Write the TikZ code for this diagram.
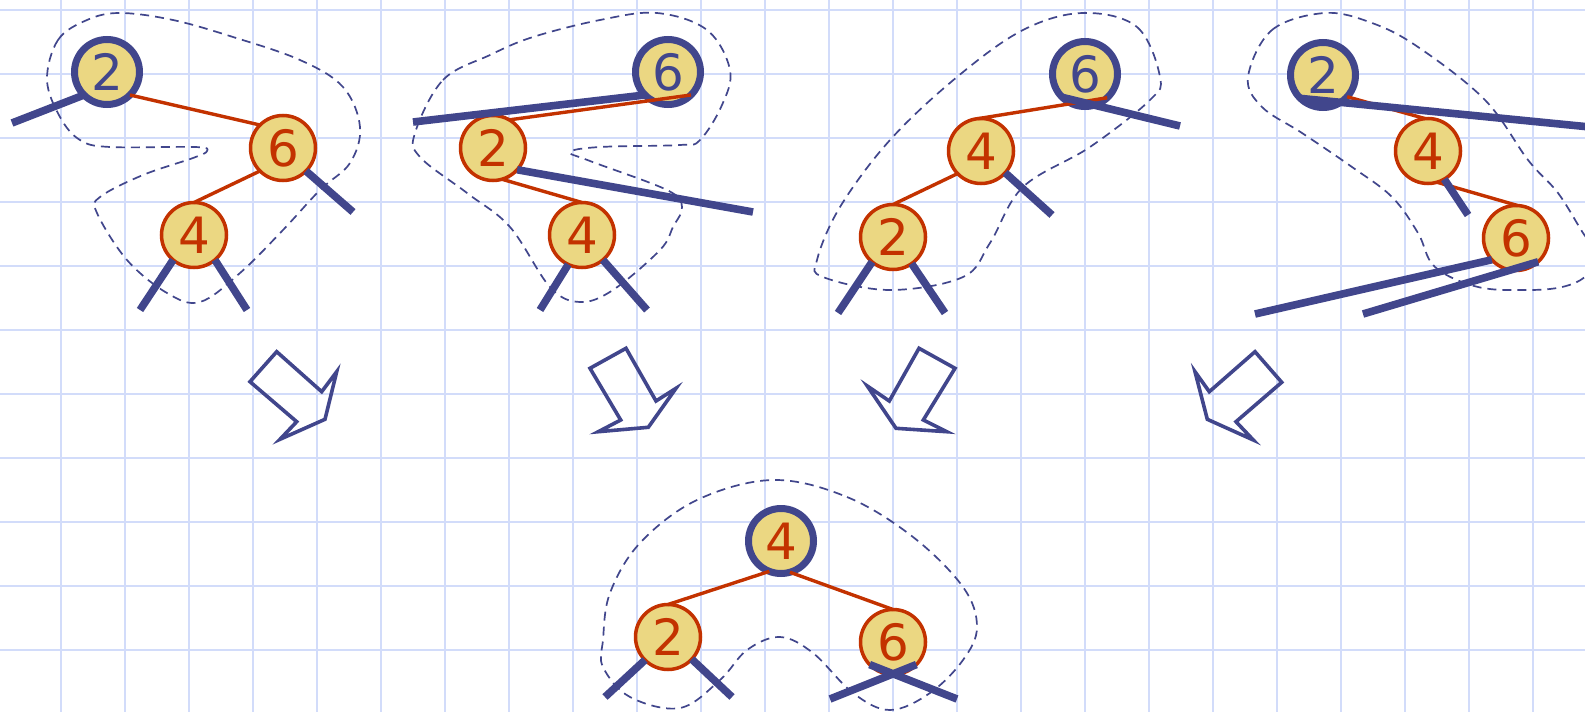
\documentclass[tikz,border=0pt]{standalone}
\usepackage{fontspec}
\newfontfamily\dejavu{DejaVu Sans}
\definecolor{gridc}{RGB}{210,220,250}
\definecolor{bblue}{RGB}{65,70,140}
\definecolor{ored}{RGB}{195,50,0}
\definecolor{sand}{RGB}{235,215,130}
\tikzset{
 tnode/.style={circle, fill=sand, minimum size=32.5pt, inner sep=0pt, outer sep=0pt, font=\dejavu\fontsize{25}{25}\selectfont},
 rnode/.style={tnode, draw=ored, line width=1.75pt, text=ored},
 bnode/.style={tnode, draw=bblue, line width=3.5pt, text=bblue},
 redge/.style={draw=ored, line width=1.7pt},
 stub/.style={draw=bblue, line width=3.8pt},
 hull/.style={draw=bblue, line width=0.85pt, dash pattern=on 4.5pt off 3pt},
 barrow/.style={draw=bblue, line width=1.8pt, line join=miter},
 gridline/.style={draw=gridc, line width=1pt}
}
\begin{document}
\begin{tikzpicture}[x=0.5pt,y=-0.5pt]
\useasboundingbox (0,0) rectangle (1585,712);
\clip (0,0) rectangle (1585,712);
\fill[white] (0,0) rectangle (1585,712);
\foreach \i in {0,...,23} \draw[gridline] (61+64*\i,0) -- (61+64*\i,712);
\foreach \j in {0,...,11} \draw[gridline] (0,10+64*\j) -- (1585,10+64*\j);

% dashed hulls
\draw[hull] plot[smooth cycle, tension=0.6] coordinates {(47,80) (58,40) (87,20) (120,13) (173,20) (233,37) (300,60) (343,87) (360,127) (350,163) (320,190) (283,230) (240,273) (200,302) (167,293) (127,260) (97,213) (100,197) (143,175) (193,158) (207,151) (195,147) (110,147) (80,140) (60,117)};
\draw[hull] plot[smooth cycle, tension=0.6] coordinates {(415,133) (443,80) (490,55) (533,37) (600,20) (657,13) (707,30) (730,70) (722,105) (700,140) (680,145) (600,147) (570,152) (590,161) (667,190) (682,207) (673,227) (660,250) (613,290) (580,302) (550,287) (510,227) (467,193) (420,157)};
\draw[hull] plot[smooth cycle, tension=0.6] coordinates {(1083,13) (1137,27) (1160,77) (1150,100) (1090,147) (1023,187) (990,243) (963,277) (890,290) (823,277) (817,260) (840,207) (890,140) (957,77) (1023,30)};
\draw[hull] plot[smooth cycle, tension=0.6] coordinates {(1248,77) (1272,30) (1325,13) (1372,23) (1418,47) (1485,100) (1528,160) (1558,193) (1583,233) (1600,258) (1585,277) (1562,287) (1528,290) (1478,287) (1435,267) (1418,233) (1392,197) (1352,167) (1302,133) (1262,107)};
\draw[hull] plot[smooth cycle, tension=0.6] coordinates {(773,480) (847,497) (913,537) (963,587) (977,627) (963,660) (930,693) (890,710) (853,693) (813,653) (780,637) (747,650) (720,680) (680,708) (630,697) (603,667) (603,640) (610,593) (640,543) (697,500)};

% tree 1
\node[bnode] (A2) at (107,72) {2};
\node[rnode] (A6) at (283,148) {6};
\node[rnode] (A4) at (194,235) {4};
\coordinate (a1) at (12,123);
\coordinate (a2) at (353,212);
\coordinate (a3) at (140,310);
\coordinate (a4) at (247,310);
\draw[redge] (A2.-45) -- (A6.135);
\draw[redge] (A6.-135) -- (A4.90);
\draw[stub] (A2.-135) -- (a1);
\draw[stub] (A6.-45) -- (a2);
\draw[stub] (A4.-130) -- (a3);
\draw[stub] (A4.-50) -- (a4);

% tree 2
\node[bnode] (B6) at (668,72) {6};
\node[rnode] (B2) at (493,148) {2};
\node[rnode] (B4) at (582,235) {4};
\coordinate (b1) at (413,122);
\coordinate (b2) at (753,212);
\coordinate (b3) at (540,310);
\coordinate (b4) at (647,310);
\draw[stub] (B6.-135) -- (b1);
\draw[redge] (B6.-45) -- (B2.60);
\draw[redge] (B2.-74) -- (B4.90);
\draw[stub] (B2.-42) -- (b2);
\draw[stub] (B4.-115) -- (b3);
\draw[stub] (B4.-50) -- (b4);

% tree 3
\node[bnode] (C6) at (1085,74) {6};
\node[rnode] (C4) at (981,151) {4};
\node[rnode] (C2) at (893,237) {2};
\coordinate (c1) at (1180,126);
\coordinate (c2) at (1052,215);
\coordinate (c3) at (838,313);
\coordinate (c4) at (945,313);
\draw[redge] (C6.-47) -- (C4.95);
\draw[redge] (C4.-136) -- (C2.90);
\draw[stub] (C6.-134) -- (c1);
\draw[stub] (C4.-42) -- (c2);
\draw[stub] (C2.-130) -- (c3);
\draw[stub] (C2.-55) -- (c4);

% tree 4
\node[bnode] (D2) at (1323,75) {2};
\node[rnode] (D4) at (1428,151) {4};
\node[rnode] (D6) at (1516,238) {6};
\coordinate (d1) at (1595,127.5);
\coordinate (d2) at (1468,215);
\coordinate (d3) at (1255,314);
\coordinate (d4) at (1363,314);
\draw[redge] (D2.-42) -- (D4.95);
\draw[redge] (D4.-74) -- (D6.87);
\draw[stub] (D2.-134) -- (d1);
\draw[stub] (D4.-60) -- (d2);
\draw[stub] (D6.-138) -- (d3);
\draw[stub] (D6.-47) -- (d4);

% bottom tree
\node[bnode, text=ored] (E4) at (781,541) {4};
\node[rnode] (E2) at (668,637) {2};
\node[rnode] (E6) at (893,642) {6};
\coordinate (e1) at (605,697);
\coordinate (e2) at (732,697);
\coordinate (e3) at (957,699);
\coordinate (e4) at (830,699);
\draw[redge] (E4.-111) -- (E2.90);
\draw[redge] (E4.-74) -- (E6.90);
\draw[stub] (E2.-135) -- (e1);
\draw[stub] (E2.-43) -- (e2);
\draw[stub] (E6.-136) -- (e3);
\draw[stub] (E6.-44) -- (e4);

% arrows
\draw[barrow] (276.7,351.7) -- (321.7,391.7) -- (336.7,371.7) -- (325,419.3) -- (280,439.3) -- (296.7,421.7) -- (250,381.7) -- cycle;
\draw[barrow] (590,368.3) -- (626,348.3) -- (656,401) -- (676,388.3) -- (648.3,427.3) -- (598.3,431.7) -- (620.7,420) -- cycle;
\draw[barrow] (919,348.3) -- (955,368.3) -- (923.3,420) -- (946.7,431.7) -- (896,428.3) -- (867.3,386) -- (889.3,401) -- cycle;
\draw[barrow] (1255,351.7) -- (1281.7,382.3) -- (1236,421.7) -- (1253.3,440) -- (1207.3,419.3) -- (1195,371.7) -- (1209.3,391.7) -- cycle;
\end{tikzpicture}
\end{document}
